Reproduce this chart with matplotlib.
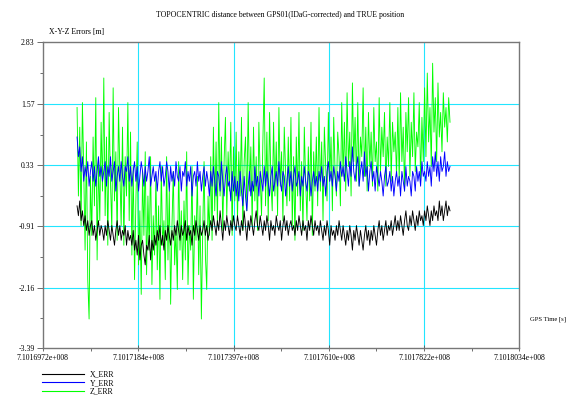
import numpy as np
import matplotlib
matplotlib.use("Agg")
import matplotlib.pyplot as plt

plt.rcParams['font.family'] = ['Liberation Serif', 'DejaVu Serif']

# GPS time span of the record [s]
t_first = 7.1017048e8
t_last = 7.1017880e8

# topocentric errors [m]
x_err = [
    -0.5, -0.7, -0.4, -0.8, -0.6, -0.9, -0.7, -1.0, -0.8, -1.1, -0.9, -0.8, -1.1, -0.9, -1.2, -1.0, -0.8, -1.1, -0.9, -1.0,
    -1.2, -0.9, -1.1, -0.8, -1.0, -1.2, -0.9, -1.1, -1.3, -1.0, -0.8, -1.1, -0.9, -1.2, -1.0, -1.1, -0.9, -1.3, -1.0, -1.2,
    -1.1, -1.3, -1.0, -1.4, -1.2, -1.5, -1.1, -1.6, -1.3, -1.2, -1.5, -1.7, -1.3, -1.4, -1.1, -1.6, -1.2, -1.4, -1.1, -1.3,
    -1.0, -1.2, -0.9, -1.3, -1.1, -1.4, -1.0, -1.2, -0.9, -1.1, -1.3, -1.0, -1.2, -0.9, -1.1, -0.8, -1.0, -1.2, -0.9, -1.1,
    -1.0, -0.8, -1.2, -0.9, -1.1, -1.0, -1.3, -0.9, -1.1, -0.8, -1.0, -1.2, -0.9, -1.1, -1.0, -0.8, -1.1, -0.9, -1.2, -1.0,
    -0.8, -1.0, -0.7, -0.9, -1.1, -0.8, -1.0, -0.6, -0.9, -1.2, -0.8, -1.0, -0.7, -0.9, -1.1, -0.8, -1.0, -0.7, -0.9, -1.0,
    -0.7, -0.9, -1.1, -0.8, -1.0, -0.6, -0.9, -1.2, -0.8, -1.0, -0.7, -0.9, -1.1, -0.8, -0.6, -0.9, -1.0, -0.7, -0.9, -1.1,
    -0.8, -1.0, -0.7, -0.9, -1.2, -0.8, -1.0, -0.9, -1.1, -0.7, -0.9, -1.0, -0.8, -1.2, -0.9, -0.7, -1.0, -0.8, -1.1, -0.9,
    -0.8, -1.0, -0.9, -1.1, -0.8, -1.0, -0.7, -0.9, -1.1, -0.8, -1.0, -0.9, -1.2, -0.8, -1.0, -0.7, -0.9, -1.1, -0.8, -1.0,
    -0.9, -1.1, -0.8, -1.0, -1.2, -0.9, -1.1, -0.8, -1.0, -1.3, -0.9, -1.1, -1.0, -1.2, -0.9, -1.1, -0.8, -1.0, -1.2, -0.9,
    -1.1, -1.3, -1.0, -1.2, -0.9, -1.1, -1.4, -1.0, -1.2, -0.9, -1.1, -1.3, -1.0, -1.2, -1.4, -1.1, -0.9, -1.2, -1.0, -1.3,
    -1.0, -1.2, -0.9, -1.1, -1.3, -1.0, -0.8, -1.1, -0.9, -1.2, -1.0, -0.8, -1.1, -0.9, -1.0, -0.8, -1.1, -0.9, -0.7, -1.0,
    -0.8, -1.0, -0.7, -0.9, -1.1, -0.8, -0.6, -0.9, -1.0, -0.7, -0.9, -0.6, -0.8, -1.0, -0.7, -0.9, -0.6, -0.8, -0.7, -0.9,
    -0.6, -0.8, -0.5, -0.7, -0.9, -0.6, -0.8, -0.5, -0.7, -0.6, -0.8, -0.4, -0.7, -0.5, -0.8, -0.6, -0.4, -0.7, -0.5, -0.6,
]

y_err = [
    0.9, 0.5, 0.7, 0.2, 0.5, 0.0, 0.3, 0.1, 0.4, -0.1, 0.2, 0.4, 0.0, 0.3, -0.1, 0.2, 0.5, 0.1, 0.3, 0.0,
    0.2, 0.4, -0.1, 0.3, 0.1, 0.5, 0.0, 0.2, 0.4, -0.2, 0.1, 0.3, 0.0, 0.4, 0.1, -0.1, 0.3, 0.2, 0.5, 0.0,
    0.3, -0.1, 0.2, 0.4, 0.0, 0.3, -0.2, 0.1, 0.4, 0.2, -0.1, 0.3, 0.0, 0.2, 0.5, -0.1, 0.1, 0.3, 0.0, 0.2,
    -0.2, 0.2, 0.4, 0.0, 0.3, -0.1, 0.1, 0.4, 0.2, -0.2, 0.3, 0.0, 0.2, -0.1, 0.4, 0.1, 0.0, 0.3, -0.2, 0.2,
    0.1, 0.4, -0.1, 0.2, 0.0, 0.3, -0.3, 0.1, 0.2, -0.1, 0.4, 0.0, 0.2, -0.2, 0.1, 0.3, -0.1, 0.2, 0.0, -0.3,
    0.2, -0.1, 0.3, 0.0, -0.3, 0.2, 0.1, -0.2, 0.4, 0.0, -0.3, 0.1, 0.3, -0.1, 0.0, -0.4, 0.2, -0.2, 0.1, -0.3,
    0.0, -0.4, 0.2, -0.2, -0.5, 0.1, -0.3, -0.6, -0.1, 0.2, -0.3, 0.0, -0.2, 0.3, -0.1, 0.1, -0.3, 0.2, 0.0, -0.2,
    0.3, -0.1, 0.2, 0.0, -0.3, 0.1, 0.3, -0.2, 0.0, 0.2, -0.1, 0.4, 0.0, -0.2, 0.2, 0.1, -0.3, 0.0, 0.3, -0.1,
    0.2, -0.2, 0.1, 0.3, -0.1, 0.0, 0.2, -0.3, 0.1, -0.1, 0.3, 0.0, -0.2, 0.2, 0.1, -0.3, 0.0, 0.2, -0.1, 0.1,
    -0.2, 0.2, 0.0, 0.3, -0.1, 0.1, -0.3, 0.2, 0.4, 0.0, 0.2, -0.1, 0.3, 0.1, -0.2, 0.2, 0.0, 0.4, 0.1, 0.3,
    0.0, 0.5, 0.2, -0.1, 0.4, 0.1, 0.7, 0.2, 0.0, 0.3, 0.5, -0.1, 0.2, 0.4, 0.0, 0.6, 0.1, 0.3, -0.2, 0.2,
    0.4, 0.0, 0.2, -0.2, 0.3, 0.1, -0.1, 0.2, 0.0, -0.3, 0.1, 0.3, -0.1, 0.0, 0.2, -0.2, 0.1, -0.3, 0.0, 0.2,
    -0.1, 0.1, -0.3, 0.2, 0.0, -0.2, 0.3, -0.1, 0.1, 0.0, -0.3, 0.2, 0.1, -0.2, 0.3, 0.0, 0.2, -0.1, 0.4, 0.1,
    0.2, 0.0, 0.4, 0.1, 0.3, -0.1, 0.5, 0.2, 0.6, 0.1, 0.4, 0.0, 0.5, 0.2, 0.3, 0.6, 0.1, 0.4, 0.2, 0.3,
]

z_err = [
    1.5, -0.3, 1.1, -0.9, 1.6, 0.2, -1.4, 0.8, -2.0, -2.8, 0.1, -1.1, 0.9, -0.5, 1.7, -1.6, 0.4, -0.8, 1.2, -0.2,
    2.1, -0.7, 0.9, -1.3, 1.4, 0.0, -1.0, 1.9, -0.4, 0.6, -1.2, 1.5, 0.2, -0.9, 1.1, -1.3, 0.5, -0.3, 1.6, -0.8,
    1.0, -1.5, 0.3, -2.0, -0.4, 0.8, -1.7, -0.6, -2.3, 0.2, -1.1, 0.6, -1.9, -0.3, -1.4, 0.5, -2.1, -0.7, -1.5, 0.1,
    -1.8, -0.5, -2.4, 0.3, -1.3, -0.8, -2.0, 0.5, -1.6, -0.2, -2.5, -0.9, 0.2, -1.7, -1.0, -2.2, 0.4, -1.4, -0.6, -2.0,
    -0.4, -1.6, 0.6, -2.1, -0.9, -1.4, 0.3, -2.4, -0.7, -1.2, 0.1, -1.9, -0.5, -2.8, -1.0, 0.4, -1.5, -2.2, -0.3, -1.1,
    0.5, -1.2, 1.1, -0.6, 0.8, -0.9, 1.6, -0.3, 0.9, -1.0, 0.4, 1.3, -0.7, 0.6, -0.2, 1.2, -1.1, 0.7, -0.4, 1.0,
    -0.8, 0.6, -0.3, 1.3, -1.0, 0.4, 0.9, -0.6, 1.6, -0.2, 0.7, -0.9, 1.1, -0.4, 0.5, -1.0, 1.2, 0.1, -0.7, 0.8,
    2.1, -0.5, 1.0, -0.8, 1.4, 0.0, -0.6, 1.2, -0.3, 0.8, -0.7, 1.5, -0.1, 0.6, -0.8, 1.1, 0.2, -0.5, 0.9, -0.4,
    1.3, -0.9, 0.5, -1.2, 0.9, -0.3, 1.4, -0.6, 0.4, -1.0, 1.1, 0.0, -0.8, 0.7, -0.4, 1.2, -1.1, 0.6, -0.2, 0.9,
    -0.5, 1.5, -0.2, 0.8, -0.8, 1.1, 0.3, -0.4, 1.4, 0.0, 0.9, -0.6, 1.3, 0.2, -0.3, 1.0, 0.5, -0.5, 1.6, 0.1,
    1.2, -0.2, 1.8, 0.3, 1.0, -0.3, 2.0, 0.4, 1.3, 0.0, 1.6, -0.1, 0.9, 0.5, 1.9, 0.1, 1.1, -0.2, 1.4, 0.3,
    1.0, -0.1, 1.5, 0.4, 0.8, -0.2, 1.7, 0.2, 1.1, 0.5, 1.4, -0.1, 0.9, 0.3, 1.6, 0.0, 1.2, 0.6, 1.0, 0.1,
    1.5, 0.0, 1.8, 0.4, 1.1, -0.2, 1.4, 0.6, 1.7, 0.1, 1.2, 0.5, 1.8, 0.2, 1.0, 0.7, 1.6, 0.0, 1.3, 0.4,
    1.9, 0.5, 2.2, 0.8, 1.5, 0.3, 2.4, 1.0, 1.7, 0.4, 2.0, 0.9, 1.4, 0.6, 1.8, 1.1, 1.5, 0.8, 1.7, 1.2,
]

series_names = ["X_ERR", "Y_ERR", "Z_ERR"]
series_colors = ["black", "#0000ff", "#00ff00"]

x_ticks = [7.1016972e8, 7.1017184e8, 7.1017397e8, 7.1017610e8, 7.1017822e8, 7.1018034e8]
x_labels = ["7.1016972e+008", "7.1017184e+008", "7.1017397e+008",
            "7.1017610e+008", "7.1017822e+008", "7.1018034e+008"]
y_ticks = [2.83, 1.57, 0.33, -0.91, -2.16, -3.39]
y_labels = ["2.83", "1.57", "0.33", "-0.91", "-2.16", "-3.39"]

fig = plt.figure(figsize=(5.71, 3.97), dpi=100)
ax = fig.add_axes([0.0753, 0.1234, 0.8337, 0.7706])

fs = 5.6
lines = {}
# Z drawn first so X and Y sit on top
for name, col, data in [("Z_ERR", series_colors[2], z_err),
                        ("Y_ERR", series_colors[1], y_err),
                        ("X_ERR", series_colors[0], x_err)]:
    t = np.linspace(t_first, t_last, len(data))
    lines[name], = ax.plot(t, data, color=col, lw=0.65)

ax.set_xlim(x_ticks[0], x_ticks[-1])
ax.set_ylim(y_ticks[-1], y_ticks[0])
ax.set_xticks(x_ticks)
ax.set_xticklabels(x_labels, fontsize=fs)
ax.set_yticks(y_ticks)
ax.set_yticklabels(y_labels, fontsize=fs)
mx = [(a + b) / 2 for a, b in zip(x_ticks[:-1], x_ticks[1:])]
my = [(a + b) / 2 for a, b in zip(y_ticks[:-1], y_ticks[1:])]
ax.set_xticks(mx, minor=True)
ax.set_yticks(my, minor=True)
ax.tick_params(which='major', length=4, width=0.6, color='#555555', pad=2)
ax.tick_params(which='minor', length=2, width=0.6, color='#555555')
ax.tick_params(axis='x', direction='inout')

# cyan grid only on the inner ticks
for xv in x_ticks[1:-1]:
    ax.axvline(xv, color='#22e5ff', lw=0.8, zorder=0)
for yv in y_ticks[1:-1]:
    ax.axhline(yv, color='#22e5ff', lw=0.8, zorder=0)

for sp in ax.spines.values():
    sp.set_color('#777777')
    sp.set_linewidth(1.0)

fig.text(0.49, 0.962, "TOPOCENTRIC distance between GPS01(IDaG-corrected) and TRUE position",
         ha='center', va='center', fontsize=fs)
fig.text(0.085, 0.92, "X-Y-Z Errors [m]", ha='left', va='center', fontsize=fs)
fig.text(0.928, 0.195, "GPS Time [s]", ha='left', va='center', fontsize=4.8)

leg = ax.legend([lines[n] for n in series_names], series_names,
                loc='upper left', bbox_to_anchor=(-0.002, -0.073), frameon=False,
                fontsize=fs, handlelength=5.4, handletextpad=0.7, labelspacing=0.08,
                borderpad=0, borderaxespad=0)
for h in leg.get_lines():
    h.set_linewidth(0.8)

fig.savefig("out.png", dpi=100)
